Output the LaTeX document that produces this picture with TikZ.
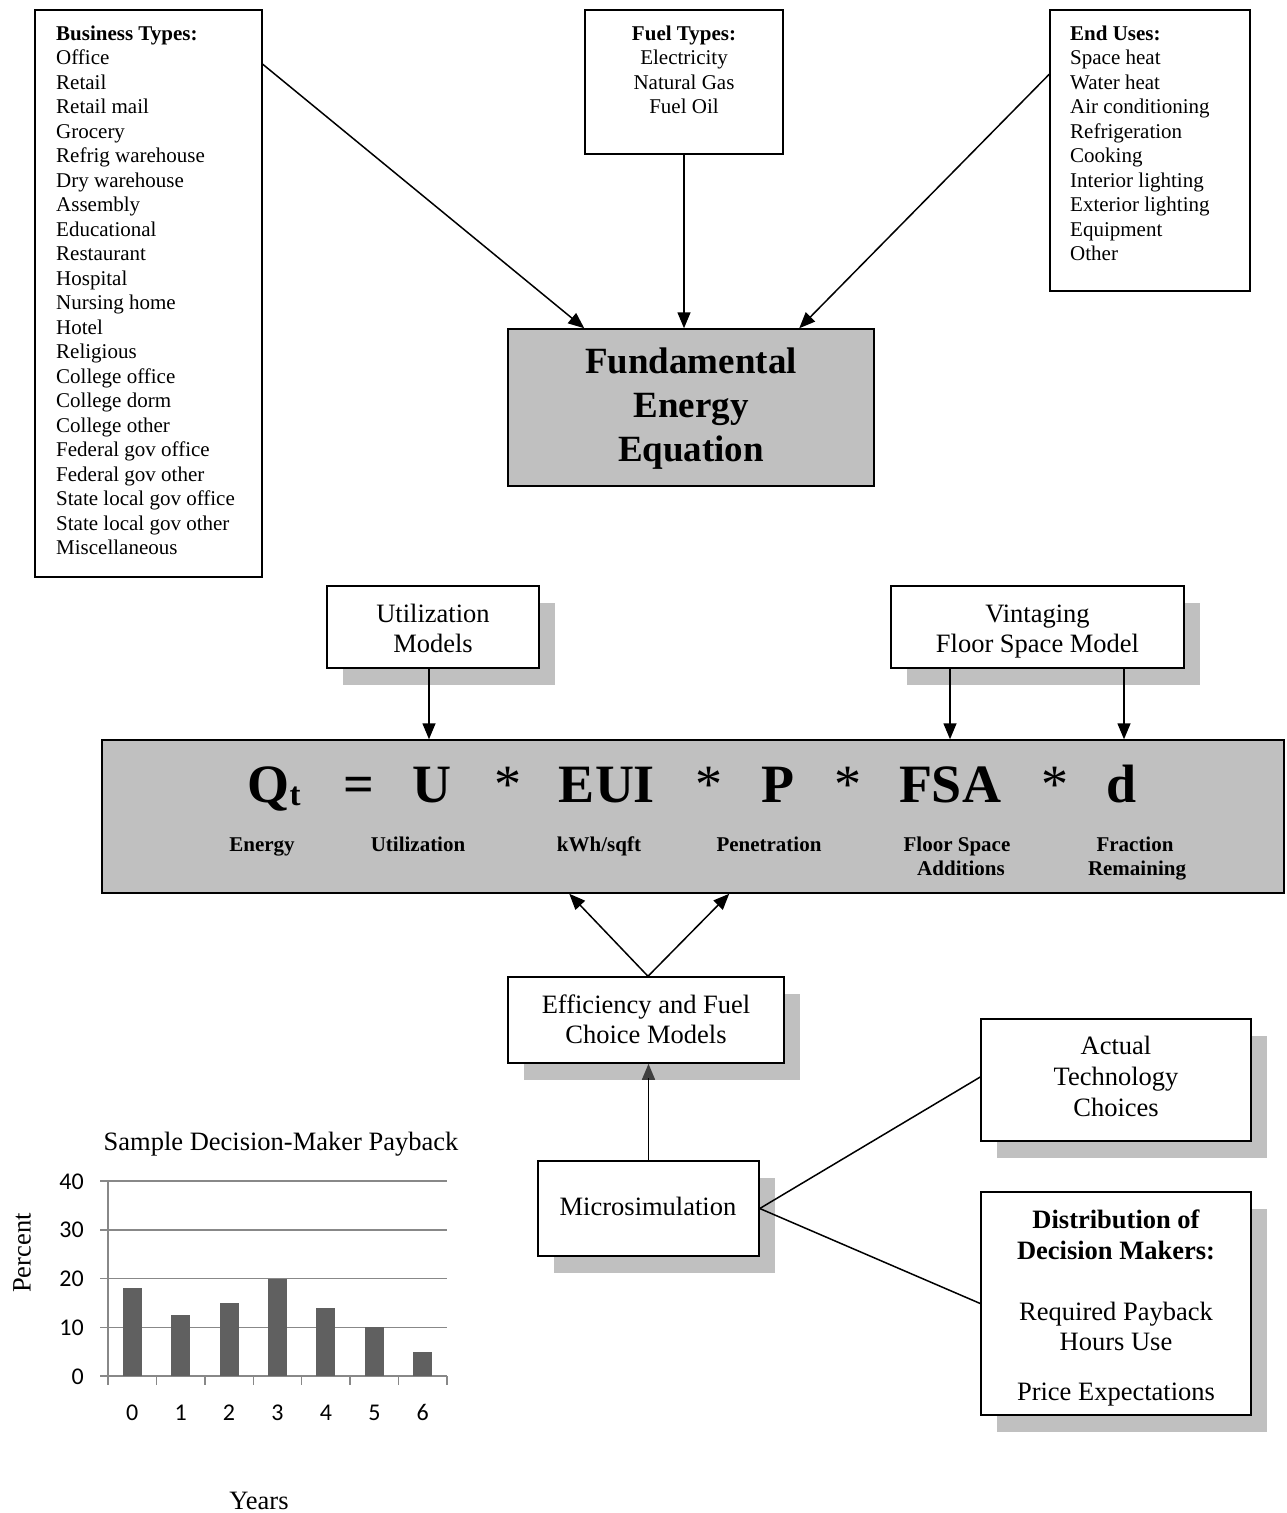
\documentclass[tikz,border=0pt]{standalone}
\usepackage{fontspec}
\setmainfont{Liberation Serif}
\newfontfamily\calfont{Carlito}
\usetikzlibrary{arrows.meta,calc,shadows}
\definecolor{shade}{HTML}{C0C0C0}
\definecolor{barc}{HTML}{606060}
\definecolor{gridc}{HTML}{888888}
\definecolor{tipc}{HTML}{404040}
\begin{document}
\begin{tikzpicture}[x=1pt,y=-1pt,
  box/.style={draw, line width=1.5pt, fill=white, inner sep=0pt, anchor=center},
  sbox/.style={box, drop shadow={shadow xshift=16pt, shadow yshift=-17pt, fill=shade, opacity=1}},
  gbox/.style={box, fill=shade},
  arr/.style={line width=1.5pt, -{Triangle[length=16pt,width=13pt]}},
  conn/.style={line width=1.5pt},
  ta/.style={inner sep=0pt, font=\fontsize{21}{24}\selectfont},
  tab/.style={inner sep=0pt, font=\fontsize{21}{24}\selectfont\bfseries},
  tm/.style={inner sep=0pt, font=\fontsize{26.5}{30}\selectfont},
  tmb/.style={inner sep=0pt, font=\fontsize{26.5}{30}\selectfont\bfseries},
  tf/.style={inner sep=0pt, font=\fontsize{37}{44}\selectfont\bfseries},
  teq/.style={inner sep=0pt, font=\fontsize{54}{60}\selectfont\bfseries},
  tst/.style={inner sep=0pt, font=\fontsize{54}{60}\selectfont},
  tnum/.style={inner sep=0pt, font=\calfont\fontsize{24}{28}\selectfont},
]
\useasboundingbox (0,0) rectangle (1287,1513);

% ---------- top boxes ----------
\node[box, minimum width=227pt, minimum height=567pt] (biz) at (148.5,293.5) {};
\node[tab, anchor=base west] (bizh) at (56,40) {Business Types:};
\foreach \t [count=\i] in {Office,Retail,Retail mail,Grocery,Refrig warehouse,Dry warehouse,Assembly,Educational,Restaurant,Hospital,Nursing home,Hotel,Religious,College office,College dorm,College other,Federal gov office,Federal gov other,State local gov office,State local gov other,Miscellaneous}
  \node[ta, anchor=base west] (biz\i) at (56,40+\i*24.5) {\t};

\node[box, minimum width=198pt, minimum height=144pt] (fuel) at (684,82) {};
\node[tab, anchor=base] (fuelh) at (684,40) {Fuel Types:};
\foreach \t [count=\i] in {Electricity,Natural Gas,Fuel Oil}
  \node[ta, anchor=base] (fuel\i) at (684,40+\i*24.5) {\t};

\node[box, minimum width=200pt, minimum height=281pt] (end) at (1150,150.5) {};
\node[tab, anchor=base west] (endh) at (1070,40) {End Uses:};
\foreach \t [count=\i] in {Space heat,Water heat,Air conditioning,Refrigeration,Cooking,Interior lighting,Exterior lighting,Equipment,Other}
  \node[ta, anchor=base west] (end\i) at (1070,40+\i*24.5) {\t};

\node[gbox, minimum width=366pt, minimum height=157pt] (fee) at (691,407.5) {};
\node[tf, anchor=base] (fee1) at (691,373) {Fundamental};
\node[tf, anchor=base] (fee2) at (691,417) {Energy};
\node[tf, anchor=base] (fee3) at (691,461) {Equation};

\draw[arr] ($(biz.north east)+(0,55)$) -- ($(fee.north west)+(77,0)$);
\draw[arr] (fuel.south) -- (fuel.south |- fee.north);
\draw[arr] ($(end.north west)+(0,65)$) -- ($(fee.north west)+(292,0)$);

% ---------- model boxes ----------
\node[sbox, minimum width=212pt, minimum height=82pt] (util) at (433,627) {};
\node[tm, anchor=base] (util1) at (433,622) {Utilization};
\node[tm, anchor=base] (util2) at (433,652) {Models};

\node[sbox, minimum width=293pt, minimum height=82pt] (vint) at (1037.5,627) {};
\node[tm, anchor=base] (vint1) at (1037.5,622) {Vintaging};
\node[tm, anchor=base] (vint2) at (1037.5,652) {Floor Space Model};

% ---------- equation ----------
\node[gbox, minimum width=1182pt, minimum height=153pt] (eq) at (693,816.5) {};
\node[teq, anchor=base] (eqQ) at (274,802) {Q\raisebox{-3pt}{\fontsize{33}{33}\selectfont t}};
\node[teq, anchor=base] (eqE) at (359,802) {=};
\node[teq, anchor=base] (eqU) at (432,802) {U};
\node[tst, anchor=base] (eqs1) at (508,802) {*};
\node[teq, anchor=base] (eqEUI) at (607,802) {EUI};
\node[tst, anchor=base] (eqs2) at (709,802) {*};
\node[teq, anchor=base] (eqP) at (778,802) {P};
\node[tst, anchor=base] (eqs3) at (848,802) {*};
\node[teq, anchor=base] (eqFSA) at (950,802) {FSA};
\node[tst, anchor=base] (eqs4) at (1055,802) {*};
\node[teq, anchor=base] (eqd) at (1122,802) {d};

\node[tab, anchor=base] (lbE) at (262,851) {Energy};
\node[tab, anchor=base] (lbU) at (418,851) {Utilization};
\node[tab, anchor=base] (lbK) at (599,851) {kWh/sqft};
\node[tab, anchor=base] (lbP) at (769,851) {Penetration};
\node[tab, anchor=base] (lbF1) at (957,851) {Floor Space};
\node[tab, anchor=base] (lbF2) at (961,875) {Additions};
\node[tab, anchor=base] (lbR1) at (1135,851) {Fraction};
\node[tab, anchor=base] (lbR2) at (1137,875) {Remaining};

\coordinate (u1) at ($(util.south)+(-4,0)$);
\coordinate (v1) at ($(vint.south)+(-87.5,0)$);
\coordinate (v2) at ($(vint.south)+(86.5,0)$);
\draw[arr] (u1) -- (u1 |- eq.north);
\draw[arr] (v1) -- (v1 |- eq.north);
\draw[arr] (v2) -- (v2 |- eq.north);

% ---------- efficiency / microsimulation ----------
\node[sbox, minimum width=276pt, minimum height=86pt] (eff) at (646,1020) {};
\node[tm, anchor=base] (eff1) at (646,1013) {Efficiency and Fuel};
\node[tm, anchor=base] (eff2) at (646,1043) {Choice Models};

\coordinate (e1) at ($(eff.north)+(2,0)$);
\draw[arr] (e1) -- ($(eq.south west)+(468,0)$);
\draw[arr] (e1) -- ($(eq.south west)+(628,0)$);

\node[sbox, minimum width=221pt, minimum height=95pt] (micro) at (648.5,1208.5) {};
\node[tm, anchor=base] (micro1) at (648,1215) {Microsimulation};
\draw[line width=1.5pt, -{Triangle[length=16pt,width=13pt]}, tipc] (micro.north) -- (micro.north |- eff.south);
\draw[line width=1.5pt] (micro.north) -- ($(micro.north |- eff.south)+(0,14)$);

\node[sbox, minimum width=270pt, minimum height=122pt] (act) at (1116,1080) {};
\node[tm, anchor=base] (act1) at (1116,1054) {Actual};
\node[tm, anchor=base] (act2) at (1116,1085) {Technology};
\node[tm, anchor=base] (act3) at (1116,1116) {Choices};

\node[sbox, minimum width=270pt, minimum height=223pt] (dist) at (1116,1303.5) {};
\node[tmb, anchor=base] (dist1) at (1116,1228) {Distribution of};
\node[tmb, anchor=base] (dist2) at (1116,1259) {Decision Makers:};
\node[tm, anchor=base] (dist3) at (1116,1320) {Required Payback};
\node[tm, anchor=base] (dist4) at (1116,1350) {Hours Use};
\node[tm, anchor=base] (dist5) at (1116,1400) {Price Expectations};

\draw[conn] (micro.east) -- ($(act.west)+(0,-3)$);
\draw[conn] (micro.east) -- (dist.west);

% ---------- chart ----------
\node[tm, anchor=base] (ctitle) at (281,1150) {Sample Decision-Maker Payback};
\foreach \v [count=\i from 0] in {0,10,20,30,40}
  \draw[gridc, line width=1.5pt] (100,1376-4.875*\v) -- (447,1376-4.875*\v);
\draw[gridc, line width=1.5pt] (108,1181) -- (108,1385);
\foreach \i in {1,...,7}
  \draw[gridc, line width=1.5pt] (108+48.43*\i,1376) -- (108+48.43*\i,1385);
\foreach \v [count=\i from 0] in {18,12.5,15,20,14,10,5}
  \fill[barc] (108+48.43*\i+24.2-9.5,1376) rectangle (108+48.43*\i+24.2+9.5,1376-4.875*\v);
\foreach \v [count=\i from 0] in {0,10,20,30,40}
  \node[tnum, anchor=base east] (yl\i) at (84,1376-4.875*\v+8) {\v};
\foreach \v [count=\i from 0] in {0,...,6}
  \node[tnum, anchor=base] (xl\i) at (108+48.43*\i+24.2,1420) {\v};
\node[tm, anchor=base] (cyears) at (259,1509) {Years};
\node[tm, rotate=90, anchor=center] (cpct) at (22,1253) {Percent};
\end{tikzpicture}
\end{document}
